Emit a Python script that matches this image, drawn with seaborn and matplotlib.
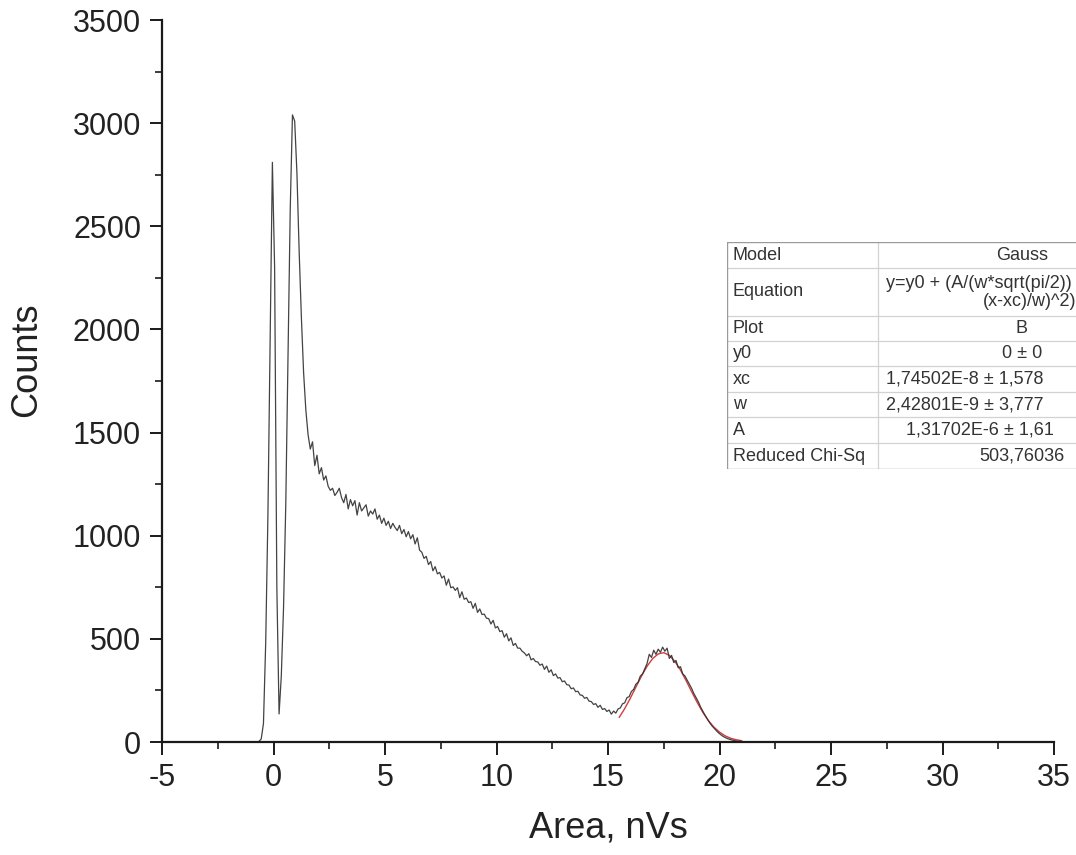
import numpy as np
import pandas as pd
import matplotlib
matplotlib.use("Agg")
import matplotlib.pyplot as plt
import seaborn as sns
from matplotlib.ticker import MultipleLocator

# ---------------- data ----------------
x_start = -0.95   # first bin centre, nVs
x_step = 0.1      # bin width, nVs
counts = [
    0, 0, 0, 3, 15, 90, 480, 1100, 1950, 2810,
    2300, 750, 136, 320, 650, 1150, 1850, 2580, 3040, 3010,
    2760, 2380, 2060, 1790, 1610, 1490, 1420, 1455, 1340, 1390,
    1300, 1330, 1270, 1290, 1240, 1220, 1230, 1195, 1210, 1230,
    1185, 1160, 1200, 1130, 1175, 1145, 1170, 1100, 1160, 1120,
    1135, 1150, 1095, 1120, 1105, 1130, 1080, 1100, 1060, 1085,
    1050, 1070, 1035, 1060, 1040, 1025, 1050, 1010, 1030, 995,
    1020, 985, 1005, 960, 990, 930, 920, 890, 900, 860,
    875, 830, 850, 815, 822, 795, 805, 760, 790, 748,
    752, 735, 748, 700, 728, 692, 698, 676, 680, 648,
    672, 628, 645, 618, 620, 600, 598, 572, 590, 553,
    560, 535, 540, 508, 525, 490, 505, 468, 478, 455,
    455, 440, 432, 418, 428, 398, 405, 390, 388, 372,
    378, 352, 368, 338, 350, 322, 330, 310, 312, 292,
    296, 278, 276, 258, 262, 244, 246, 228, 226, 212,
    216, 198, 196, 182, 186, 168, 178, 158, 162, 148,
    155, 135, 150, 140, 160, 165, 185, 190, 215, 220,
    245, 255, 280, 290, 320, 330, 355, 380, 425, 410,
    445, 425, 450, 435, 460, 440, 455, 405, 420, 385,
    395, 360, 365, 330, 320, 300, 280, 260, 235, 215,
    195, 170, 150, 130, 112, 95, 80, 68, 56, 45,
    36, 28, 22, 17, 13, 10, 7, 5, 4, 3,
    2, 1, 0, 0, 0, 0, 0, 0, 0, 0,
]

fit_x = [15.5, 15.75, 16.0, 16.25, 16.5, 16.75, 17.0, 17.25, 17.5,
         17.75, 18.0, 18.25, 18.5, 18.75, 19.0, 19.25, 19.5, 19.75, 20.0,
         20.25, 20.5, 20.75, 21.0]
fit_counts = [119, 162, 212, 266, 319, 367, 404, 427, 433,
              420, 391, 349, 298, 244, 192, 144, 104, 72, 48,
              30, 18, 11, 6]

# fit-result table, as much of each entry as the reference shows
table_params = ["Model", "Equation", "Plot", "y0", "xc", "w", "A", "Reduced Chi-Sq"]
table_values = ["Gauss",
                ["y=y0 + (A/(w*sqrt(pi/2))", "(x-xc)/w)^2)"],
                "B", "0 \u00b1 0",
                "1,74502E-8 \u00b1 1,578",
                "2,42801E-9 \u00b1 3,777",
                "1,31702E-6 \u00b1 1,61",
                "503,76036"]

x_ticks = [-5, 0, 5, 10, 15, 20, 25, 30, 35]
y_ticks = [0, 500, 1000, 1500, 2000, 2500, 3000, 3500]

# ---------------- build frames ----------------
area = np.round(x_start + x_step * np.arange(len(counts)), 3)
df = pd.DataFrame({"Area": area, "Counts": counts})
fit_df = pd.DataFrame({"Area": fit_x, "Counts": fit_counts})

sns.set_theme(style="ticks")
plt.rcParams["font.family"] = ["Liberation Sans", "DejaVu Sans"]

W, H = 1076, 855
fig = plt.figure(figsize=(W / 100, H / 100), dpi=100)
fig.patch.set_facecolor("white")
ax = fig.add_axes([162 / W, 1 - 742 / H, (1054 - 162) / W, (742 - 20) / H])
ax.set_facecolor("white")

sns.lineplot(data=fit_df, x="Area", y="Counts", ax=ax, color="#d23c3c",
             linewidth=1.0, estimator=None, sort=False)
sns.lineplot(data=df, x="Area", y="Counts", ax=ax, color="#2e2e2e",
             linewidth=0.9, estimator=None, sort=False, alpha=0.9)

ax.set_xlim(x_ticks[0], x_ticks[-1])
ax.set_ylim(y_ticks[0], y_ticks[-1])
ax.set_xticks(x_ticks)
ax.set_yticks(y_ticks)
ax.set_xticklabels([str(v) for v in x_ticks])
ax.set_yticklabels([str(v) for v in y_ticks])
ax.xaxis.set_minor_locator(MultipleLocator(2.5))
ax.yaxis.set_minor_locator(MultipleLocator(250))

for side in ("top", "right"):
    ax.spines[side].set_visible(False)
for side in ("left", "bottom"):
    ax.spines[side].set_linewidth(1.6)
    ax.spines[side].set_color("#1a1a1a")

ax.tick_params(which="major", direction="out", length=9, width=1.4,
               color="#1a1a1a", labelsize=22, labelcolor="#222222", pad=6)
ax.tick_params(which="minor", direction="out", length=5, width=1.2,
               color="#1a1a1a")

ax.set_xlabel("Area, nVs", fontsize=26, color="#222222")
ax.set_ylabel("Counts", fontsize=26, color="#222222")
ax.xaxis.set_label_coords(0.5, -0.095)
ax.yaxis.set_label_coords(-0.132, 0.53)
ax.grid(False)

# ---------------- fit result table (pixel coordinates) ----------------
tl, tr = 727, 1170
ttop, tbot = 242, 469
tax = fig.add_axes([tl / W, 1 - tbot / H, (tr - tl) / W, (tbot - ttop) / H])
tax.set_xlim(tl, tr)
tax.set_ylim(tbot, ttop)
tax.axis("off")
tax.add_patch(plt.Rectangle((tl, ttop), tr - tl, tbot - ttop,
                            facecolor="white", edgecolor="none", zorder=0))
row_edges = [242, 268, 316, 341, 366, 392, 417, 443, 469]
col_split = 878
for yb in row_edges[1:-1]:
    tax.plot([tl, tr], [yb, yb], color="#d2d2d2", lw=0.9, zorder=1)
tax.plot([col_split, col_split], [ttop, tbot], color="#d2d2d2", lw=0.9, zorder=1)
tax.plot([tl, tr, tr, tl, tl], [ttop, ttop, tbot, tbot, ttop],
         color="#9a9a9a", lw=1.0, zorder=2)

fs_t = 13
tcol = "#333333"
for i, (p, v) in enumerate(zip(table_params, table_values)):
    yc = (row_edges[i] + row_edges[i + 1]) / 2
    tax.text(733, yc, p, ha="left", va="center", fontsize=fs_t, color=tcol)
    if isinstance(v, list):
        tax.text(886, yc - 9, v[0], ha="left", va="center", fontsize=fs_t, color=tcol)
        tax.text(1030, yc + 9, v[1], ha="center", va="center", fontsize=fs_t, color=tcol)
    elif len(v) > 12:
        x0 = 906 if p == "A" else 886
        tax.text(x0, yc, v, ha="left", va="center", fontsize=fs_t, color=tcol)
    else:
        tax.text(1022, yc, v, ha="center", va="center", fontsize=fs_t, color=tcol)

fig.savefig("out.png", dpi=100, facecolor="white")
